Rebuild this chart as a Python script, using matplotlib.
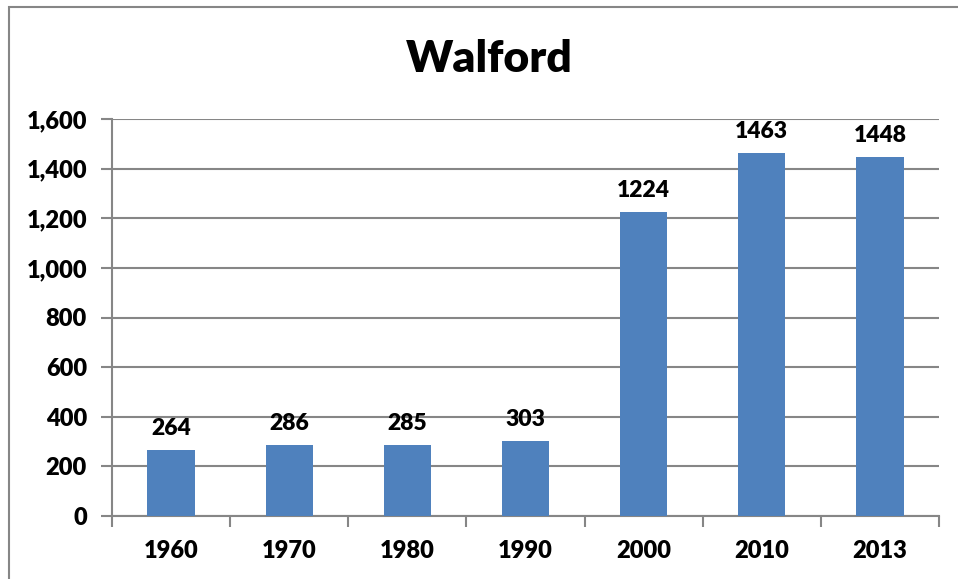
import matplotlib.pyplot as plt
from matplotlib.ticker import FuncFormatter
from matplotlib.patches import Rectangle

years = ['1960', '1970', '1980', '1990', '2000', '2010', '2013']
population = [264, 286, 285, 303, 1224, 1463, 1448]

plt.rcParams['font.family'] = ['Lato', 'DejaVu Sans']

fig = plt.figure(figsize=(9.58, 5.79), dpi=100)
ax = fig.add_axes([112 / 958, 1 - 516 / 579, (939 - 112) / 958, (516 - 119) / 579])

# chart frame, runs off the right and bottom edges
fig.patches.append(Rectangle((9 / 958, -0.1), 1.2, 1 - 7 / 579 + 0.1,
                             transform=fig.transFigure, fill=False,
                             edgecolor='#868686', linewidth=1.5))

x = range(len(years))
bars = ax.bar(x, population, width=0.4, color='#4F81BD', zorder=3)

for bar, v in zip(bars, population):
    ax.text(bar.get_x() + bar.get_width() / 2, v + 45, str(v),
            ha='center', va='bottom', fontsize=16.5, fontweight='heavy')

ax.set_xlim(-0.5, len(years) - 0.5)
ax.set_ylim(0, 1600)
ax.set_yticks(range(0, 1601, 200))
ax.yaxis.set_major_formatter(FuncFormatter(lambda v, p: f'{int(v):,}'))
ax.grid(axis='y', color='#868686', linewidth=1.5, zorder=0)
ax.tick_params(axis='y', length=8, width=1.5, color='#868686', labelsize=17, pad=10)

# category labels centred, ticks on category boundaries
ax.set_xticks(list(x))
ax.set_xticklabels(years)
ax.set_xticks([i - 0.5 for i in range(len(years) + 1)], minor=True)
ax.tick_params(axis='x', which='major', length=0, labelsize=17, pad=17)
ax.tick_params(axis='x', which='minor', length=8, width=1.5, color='#868686')
for lbl in ax.get_xticklabels() + ax.get_yticklabels():
    lbl.set_fontweight('heavy')

for s in ['top', 'right']:
    ax.spines[s].set_visible(False)
for s in ['left', 'bottom']:
    ax.spines[s].set_color('#868686')
    ax.spines[s].set_linewidth(1.5)

fig.text(489 / 958, 1 - 59 / 579, 'Walford', ha='center', va='center',
         fontsize=32, fontweight='heavy')

fig.savefig('out.png', dpi=100)
